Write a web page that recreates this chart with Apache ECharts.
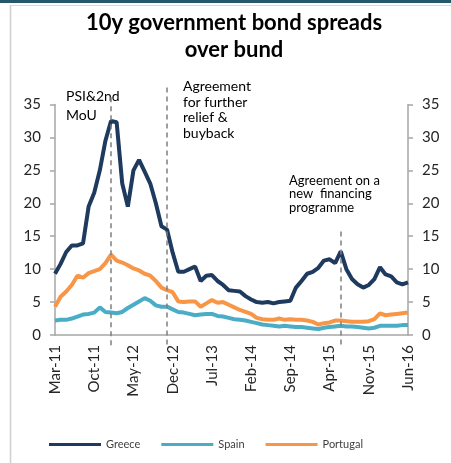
<!DOCTYPE html>
<html>
<head>
<meta charset="utf-8">
<script src="https://cdn.jsdelivr.net/npm/echarts@6/dist/echarts.min.js"></script>
<style>
html,body{margin:0;padding:0;background:#fff;}
#c{width:451px;height:463px;}
</style>
</head>
<body>
<div id="c"></div>
<script>
const categories = (function(){
  const m = ['Jan','Feb','Mar','Apr','May','Jun','Jul','Aug','Sep','Oct','Nov','Dec'];
  const out = [];
  for (let y = 11; y <= 16; y++) for (let k = 0; k < 12; k++) {
    if (y === 11 && k < 2) continue;
    if (y === 16 && k > 5) continue;
    out.push(m[k] + '-' + y);
  }
  return out;
})();

const greece = [9.3,10.8,12.6,13.6,13.6,13.9,19.5,21.6,25.0,29.5,32.5,32.3,
  23.0,19.5,25.0,26.6,24.8,23.0,20.0,16.5,16.0,12.5,9.6,9.6,
  10.0,10.4,8.2,9.0,9.1,8.2,7.6,6.8,6.7,6.6,5.9,5.4,
  5.0,4.9,5.0,4.8,5.0,5.1,5.2,7.2,8.2,9.3,9.6,10.2,
  11.3,11.5,10.9,12.7,10.0,8.5,7.7,7.2,7.6,8.5,10.3,9.2,
  8.9,8.0,7.7,8.0];
const spain = [2.2,2.3,2.3,2.5,2.8,3.1,3.2,3.4,4.2,3.5,3.4,3.3,
  3.5,4.1,4.6,5.1,5.6,5.2,4.5,4.3,4.3,3.9,3.5,3.4,
  3.2,3.0,3.1,3.2,3.2,2.9,2.8,2.6,2.4,2.3,2.2,2.0,
  1.8,1.6,1.5,1.4,1.3,1.4,1.3,1.2,1.2,1.1,1.0,0.9,
  1.1,1.2,1.3,1.4,1.3,1.3,1.2,1.1,1.0,1.1,1.4,1.4,
  1.4,1.4,1.5,1.5];
const portugal = [4.3,5.8,6.6,7.6,9.0,8.7,9.4,9.7,10.0,10.9,12.2,11.3,
  11.0,10.6,10.1,9.8,9.3,9.0,8.2,7.2,6.8,6.5,5.1,5.0,
  5.1,5.1,4.3,4.8,5.3,4.9,5.0,4.6,4.2,3.8,3.5,3.2,
  2.6,2.4,2.3,2.3,2.5,2.3,2.4,2.3,2.3,2.2,2.0,1.6,
  1.8,1.9,2.2,2.2,2.1,2.0,2.0,2.0,2.1,2.4,3.3,3.0,
  3.1,3.2,3.3,3.4];

// event markers: category index, top value, bottom value
const eventIdx = [10, 20, 51];
const eventTop = [36.1, 37.6, 15.7];
const eventBottom = [-2, -2, -2];

const yTicks = {min: 0, max: 35, interval: 5};

const FONT = 'Lato, "Open Sans", sans-serif';
const chart = echarts.init(document.getElementById('c'), null, {renderer: 'canvas'});

const gridL = 55, gridR = 43, gridT = 104.5, gridB = 128;
const unit = (463 - gridB - gridT) / (yTicks.max - yTicks.min);

const option = {
  animation: false,
  backgroundColor: '#fff',
  textStyle: {fontFamily: FONT},
  graphic: [
    {type: 'rect', shape: {x: 0, y: 0, width: 451, height: 3}, style: {fill: '#24596b'}},
    {type: 'line', shape: {x1: 10, y1: 5.5, x2: 451, y2: 5.5}, style: {stroke: '#d9d9d9', lineWidth: 1}},
    {type: 'line', shape: {x1: 10.5, y1: 5, x2: 10.5, y2: 463}, style: {stroke: '#d0d0d0', lineWidth: 1.5}},
    {type: 'text', x: 234, y: 9, style: {text: '10y government bond spreads\nover bund', textAlign: 'center',
      font: 'bold 22px ' + FONT, lineHeight: 27, fill: '#000'}},
    {type: 'text', x: 66, y: 87, style: {text: 'PSI&2nd\nMoU', font: '14px ' + FONT, lineHeight: 19, fill: '#000'}},
    {type: 'text', x: 183, y: 79, style: {text: 'Agreement\nfor further\nrelief &\nbuyback', font: '14px ' + FONT, lineHeight: 15.5, fill: '#000'}},
    {type: 'text', x: 289, y: 174, style: {text: 'Agreement on a\nnew  financing\nprogramme', font: '13px ' + FONT, lineHeight: 13.5, fill: '#000'}}
  ],
  legend: {
    data: ['Greece', 'Spain', 'Portugal'],
    left: 44, top: 434,
    icon: 'rect', itemWidth: 52, itemHeight: 3, itemGap: 21,
    textStyle: {fontSize: 11, color: '#404040', fontFamily: FONT}
  },
  grid: [
    {left: gridL, right: gridR, top: gridT, bottom: gridB},
    {left: gridL, right: gridR, top: gridT - 3 * unit, bottom: gridB - 2 * unit}
  ],
  xAxis: [
    {type: 'category', data: categories, boundaryGap: false, gridIndex: 0,
      axisLine: {lineStyle: {color: '#a6a6a6', width: 1.5}},
      axisTick: {show: false},
      axisLabel: {interval: 6, rotate: 90, margin: 10, fontSize: 15, color: '#262626', fontFamily: FONT}},
    {type: 'category', data: categories, boundaryGap: false, gridIndex: 1, show: false}
  ],
  yAxis: [
    {type: 'value', gridIndex: 0, position: 'left', min: yTicks.min, max: yTicks.max, interval: yTicks.interval,
      splitLine: {show: false},
      axisLine: {show: true, lineStyle: {color: '#a6a6a6', width: 1.5}},
      axisTick: {show: true, length: 5, lineStyle: {color: '#a6a6a6', width: 1.5}},
      axisLabel: {margin: 14, fontSize: 15, color: '#262626', fontFamily: FONT}},
    {type: 'value', gridIndex: 0, position: 'right', min: yTicks.min, max: yTicks.max, interval: yTicks.interval,
      splitLine: {show: false},
      axisLine: {show: true, lineStyle: {color: '#a6a6a6', width: 1.5}},
      axisTick: {show: true, length: 5, lineStyle: {color: '#a6a6a6', width: 1.5}},
      axisLabel: {margin: 14, fontSize: 15, color: '#262626', fontFamily: FONT}},
    {type: 'value', gridIndex: 1, min: -2, max: 38, show: false, splitLine: {show: false}}
  ],
  series: [
    {name: 'Greece', type: 'line', data: greece, xAxisIndex: 0, yAxisIndex: 0, symbol: 'none',
      lineStyle: {width: 4, color: '#1f3a5f'}, itemStyle: {color: '#1f3a5f'}, z: 4},
    {name: 'Spain', type: 'line', data: spain, xAxisIndex: 0, yAxisIndex: 0, symbol: 'none',
      lineStyle: {width: 4, color: '#4bacc6'}, itemStyle: {color: '#4bacc6'}, z: 3},
    {name: 'Portugal', type: 'line', data: portugal, xAxisIndex: 0, yAxisIndex: 0, symbol: 'none',
      lineStyle: {width: 4, color: '#f79646'}, itemStyle: {color: '#f79646'}, z: 3},
    {name: 'events', type: 'line', data: [], xAxisIndex: 1, yAxisIndex: 2, symbol: 'none', z: 2,
      markLine: {
        silent: true, symbol: ['none', 'none'], label: {show: false},
        lineStyle: {color: '#7f7f7f', width: 1.5, type: [5, 4]},
        data: eventIdx.map((idx, k) => [
          {coord: [categories[idx], eventTop[k]]},
          {coord: [categories[idx], eventBottom[k]]}
        ])
      }}
  ]
};
chart.setOption(option);
</script>
</body>
</html>
